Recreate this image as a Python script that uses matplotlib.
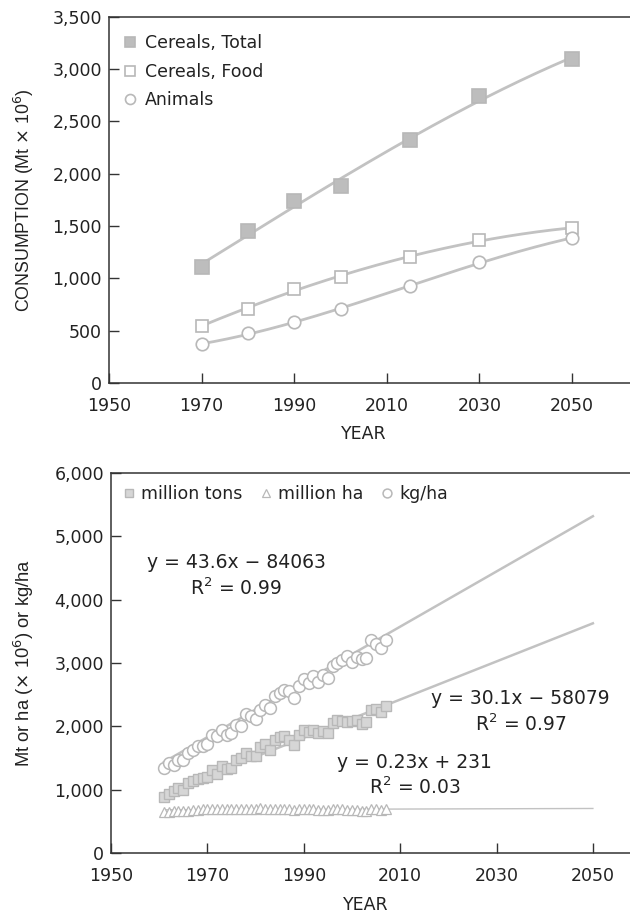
import numpy as np
import matplotlib
matplotlib.use("Agg")
import matplotlib.pyplot as plt
from matplotlib.ticker import FuncFormatter

plt.rcParams['font.family'] = ['DejaVu Sans']
plt.rcParams['mathtext.fontset'] = 'dejavusans'
plt.rcParams['font.size'] = 12.5

# ---------------- Top chart data ----------------
years_top = [1970, 1980, 1990, 2000, 2015, 2030, 2050]
cereals_total = [1110, 1450, 1735, 1880, 2320, 2740, 3100]
cereals_food = [545, 712, 903, 1013, 1201, 1366, 1481]
animals = [369, 477, 581, 708, 925, 1153, 1385]

# ---------------- Bottom chart data ----------------
years_bot = list(range(1961, 2008))
kg_ha = [1342, 1421, 1384, 1474, 1463, 1579, 1632, 1684, 1695, 1726,
         1868, 1853, 1937, 1868, 1895, 2026, 2010, 2200, 2158, 2116,
         2253, 2342, 2289, 2474, 2526, 2568, 2553, 2447, 2631, 2747,
         2684, 2800, 2695, 2816, 2763, 2947, 3000, 3042, 3105, 3010,
         3095, 3063, 3079, 3368, 3305, 3237, 3358]
million_tons = [879, 937, 974, 1026, 989, 1105, 1132, 1168, 1184, 1200,
                1316, 1253, 1368, 1326, 1337, 1474, 1500, 1579, 1537, 1537,
                1674, 1726, 1632, 1789, 1831, 1842, 1789, 1711, 1868, 1947,
                1905, 1947, 1895, 1921, 1895, 2053, 2105, 2079, 2063, 2079,
                2105, 2042, 2063, 2263, 2274, 2221, 2316]
million_ha = [648, 652, 655, 660, 662, 668, 672, 685, 688, 690,
              692, 690, 695, 698, 700, 702, 700, 698, 700, 702,
              705, 700, 690, 695, 698, 692, 688, 685, 690, 692,
              690, 688, 682, 685, 680, 690, 692, 688, 685, 680,
              682, 660, 665, 688, 690, 685, 692]
# regression fits shown in the chart: slope, intercept
fit_kg_ha = (43.6, -84063)
fit_tons = (30.1, -58079)
fit_ha = (0.23, 231)
fit_years = [1961, 2050]

eq_texts = ["y = 43.6x \u2212 84063\nR$^2$ = 0.99",
            "y = 30.1x \u2212 58079\nR$^2$ = 0.97",
            "y = 0.23x + 231\nR$^2$ = 0.03"]
eq_pos = [(1976, 4370), (2035, 2230), (2013, 1225)]

LINE = '#c2c2c2'
EDGE = '#b8b8b8'
DARK = '#333333'
TXT = '#222222'

fig = plt.figure(figsize=(6.3, 9.15), dpi=100)

def style(ax, xmax, ymax, ystep):
    ax.set_xlim(1950, xmax)
    ax.set_ylim(0, ymax)
    ax.set_xticks(range(1950, 2051, 20))
    ax.set_yticks(np.arange(0, ymax + 1, ystep))
    ax.yaxis.set_major_formatter(FuncFormatter(lambda v, p: f"{v:,.0f}"))
    ax.tick_params(direction='in', length=7, width=1, color=DARK,
                   labelcolor=TXT, labelsize=12.5)
    ax.tick_params(axis='x', pad=10)
    ax.tick_params(axis='y', pad=5)
    ax.spines['right'].set_visible(False)
    for s in ['left', 'bottom', 'top']:
        ax.spines[s].set_color(DARK)
        ax.spines[s].set_linewidth(1.1)
    ax.set_xlabel('YEAR', fontsize=12.5, color=TXT)

# ---------------- Top axes ----------------
ax1 = fig.add_axes([0.173, 0.5814, 0.827, 0.4003])
style(ax1, 2062.5, 3500, 500)
xs = np.linspace(years_top[0], years_top[-1], 200)
for vals, mk, fc, ms, lab in [
        (cereals_total, 's', '#bdbdbd', 9.5, 'Cereals, Total'),
        (cereals_food, 's', 'white', 9, 'Cereals, Food'),
        (animals, 'o', 'white', 9, 'Animals')]:
    c = np.polyfit(years_top, vals, 3)
    ax1.plot(xs, np.polyval(c, xs), color=LINE, lw=2.0, zorder=2)
    ax1.plot(years_top, vals, linestyle='none', marker=mk, ms=ms,
             mfc=fc, mec=EDGE, mew=1.2, zorder=3, label=lab)
leg1 = ax1.legend(loc='upper left', frameon=False, fontsize=12.5,
                  handlelength=0.8, handletextpad=0.45, labelspacing=0.6,
                  borderaxespad=0.4, bbox_to_anchor=(0.0, 0.99),
                  markerscale=0.8)
for t in leg1.get_texts():
    t.set_color(TXT)
ax1.set_ylabel('CONSUMPTION (Mt $\\times$ 10$^{6}$)', fontsize=12.8,
               color=TXT, family='Liberation Sans')
ax1.yaxis.set_label_coords(-0.14, 0.5)
ax1.xaxis.set_label_coords(0.49, -0.115)

# ---------------- Bottom axes ----------------
ax2 = fig.add_axes([0.1762, 0.0678, 0.8238, 0.4153])
style(ax2, 2057.7, 6000, 1000)
fx = np.array(fit_years, dtype=float)
ax2.plot(fx, fit_kg_ha[0] * fx + fit_kg_ha[1], color=LINE, lw=1.8, zorder=2)
ax2.plot(fx, fit_tons[0] * fx + fit_tons[1], color=LINE, lw=1.8, zorder=2)
ax2.plot(fx, fit_ha[0] * fx + fit_ha[1], color=LINE, lw=1.0, zorder=2)
ax2.plot(years_bot, million_tons, linestyle='none', marker='s', ms=7.5,
         mfc='#d6d6d6', mec=EDGE, mew=1.0, zorder=3, label='million tons')
ax2.plot(years_bot, million_ha, linestyle='none', marker='^', ms=7,
         mfc='white', mec=EDGE, mew=0.9, zorder=3, label='million ha')
ax2.plot(years_bot, kg_ha, linestyle='none', marker='o', ms=8.5,
         mfc='white', mec=EDGE, mew=1.1, zorder=3, label='kg/ha')
leg2 = ax2.legend(loc='upper left', frameon=False, fontsize=12.5, ncol=3,
                  handlelength=0.7, handletextpad=0.35, columnspacing=1.0,
                  borderaxespad=0.3, bbox_to_anchor=(0.0, 1.0),
                  markerscale=0.75)
for t in leg2.get_texts():
    t.set_color(TXT)
for txt, (x, y) in zip(eq_texts, eq_pos):
    ax2.text(x, y, txt, ha='center', va='center', fontsize=13.5,
             color=TXT, linespacing=1.3)
ax2.set_ylabel('Mt or ha ($\\times$ 10$^{6}$) or kg/ha', fontsize=13.2,
               color=TXT, family='Liberation Sans')
ax2.yaxis.set_label_coords(-0.145, 0.5)
ax2.xaxis.set_label_coords(0.49, -0.112)

fig.savefig('out.png', dpi=100)
